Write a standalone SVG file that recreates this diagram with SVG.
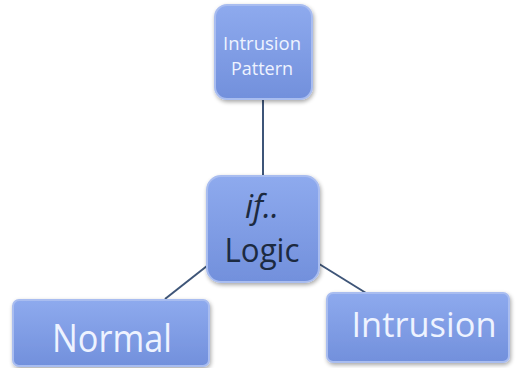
<svg xmlns="http://www.w3.org/2000/svg" width="516" height="368" viewBox="0 0 516 368">
  <defs>
    <linearGradient id="boxFill" x1="0" y1="0" x2="0" y2="1">
      <stop offset="0" stop-color="#8eaaee"/>
      <stop offset="1" stop-color="#7290dc"/>
    </linearGradient>
    <filter id="shadow" x="-10%" y="-10%" width="125%" height="130%">
      <feGaussianBlur in="SourceAlpha" stdDeviation="2"/>
      <feOffset dx="1" dy="2"/>
      <feComponentTransfer><feFuncA type="linear" slope="0.35"/></feComponentTransfer>
      <feMerge><feMergeNode/><feMergeNode in="SourceGraphic"/></feMerge>
    </filter>
    <style>
      .box { fill: url(#boxFill); stroke: #a9bdf0; stroke-width: 2; filter: url(#shadow); }
      .link { stroke: #3e5578; stroke-width: 2; fill: none; }
      .light { fill: #eef3ff; font-family: "Open Sans", "Liberation Sans", sans-serif; text-anchor: middle; }
      .dark { fill: #1c2a40; font-family: "Open Sans", "Liberation Sans", sans-serif; text-anchor: middle; }
    </style>
  </defs>

  <!-- connectors between the logic node and its neighbours -->
  <g id="connectors">
    <line class="link" x1="263" y1="100" x2="263" y2="177"/>
    <line class="link" x1="212" y1="262" x2="165" y2="299"/>
    <line class="link" x1="316" y1="262" x2="366" y2="293"/>
  </g>

  <g id="node-pattern">
    <rect class="box" x="215" y="5" width="97" height="94" rx="12"/>
    <text class="light" x="262" y="50" font-size="18" textLength="78" lengthAdjust="spacingAndGlyphs">Intrusion</text>
    <text class="light" x="262" y="75" font-size="18">Pattern</text>
  </g>

  <g id="node-logic">
    <rect class="box" x="207" y="176" width="112" height="106" rx="14"/>
    <text class="dark" x="262" y="218" font-size="32" font-style="italic">if..</text>
    <text class="dark" x="262" y="262" font-size="33" textLength="75" lengthAdjust="spacingAndGlyphs">Logic</text>
  </g>

  <g id="node-normal">
    <rect class="box" x="13" y="300" width="196" height="66" rx="6"/>
    <text class="light" x="112" y="352" font-size="39" textLength="120" lengthAdjust="spacingAndGlyphs">Normal</text>
  </g>

  <g id="node-intrusion">
    <rect class="box" x="327" y="293" width="182" height="69" rx="6"/>
    <text class="light" x="424" y="337" font-size="35" textLength="145" lengthAdjust="spacingAndGlyphs">Intrusion</text>
  </g>
</svg>
